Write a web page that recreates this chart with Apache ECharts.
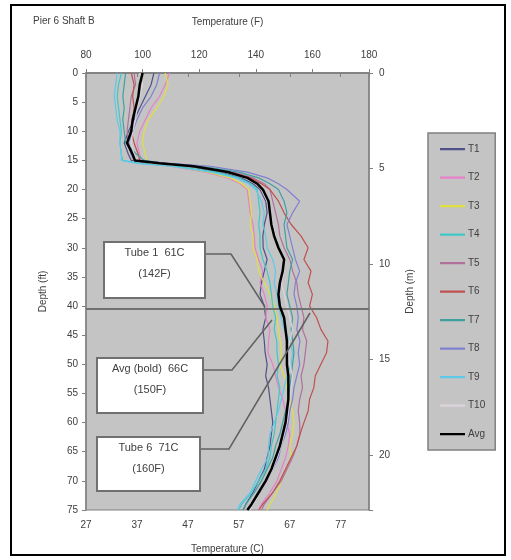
<!DOCTYPE html>
<html><head><meta charset="utf-8">
<script src="https://cdn.jsdelivr.net/npm/echarts@6/dist/echarts.min.js"></script>
<style>html,body{margin:0;padding:0;background:#fff}#c{width:511px;height:560px}</style>
</head><body><div id="c"></div>
<script>
const depths = [0,2,4,6,8,10,12,14,15,15.5,16,17,18,19,20,22,24,26,28,30,32,34,36,38,40,42,44,46,48,50,52,54,56,58,60,62,64,66,68,70,72,74,75];
const T1 = [104,103,101,99,97,95,93.5,95,96, 104,116,128,135,139,141.5, 143.5,144,143,142.5,142.6,144,143,142,141.5,143,143.5,142.5,143,143.3,144,143.5,144.5,145,145.5,146,145.5,145,144,143,141,139,136.5, 135.5];
const T2 = [109.5,108,106,103,101,99,98,99,99.5, 101,110,122,130,134.5,137, 137.5,138,139,139.5,139.7,141,142.5,141.5,143,144,143.5,145,144.5,144.3,146,147,148,149.5,150.5,151,152,151.5,150.5,149,147.5,145,142, 141];
const T3 = [108,109,107.5,105,102,100.5,100,101,101.5, 102,111,123,131,135,137.5, 138,138.5,138,139,139,140.5,141,143,145,146.5,147.5,148,148.6,149,148.5,150,151,152,153,153.5,153,152,152.5,151,149,147.4,145, 144];
const T4 = [92.5,91.5,91,91.5,92,92.5,92,92.5,93, 99,112,126,134,138,140.5, 141,141.5,141,141.5,141.5,142.5,144,145,145.5,146,147,146.5,147.4,147.5,148,147.5,148.5,148,147.5,147,146.5,145.5,145,143.5,141,138.5,135, 134];
const T5 = [97,97.5,96,95.5,95,94.5,95,96,97, 106,119,132,139,143,145, 146,147,148,148.5,150,152,153,154.5,155,156,157,156.5,158,157.5,157,156,156.5,155.5,155,155.5,155.6,154.5,153,151,149,146,143, 142];
const T6 = [96,97,96.5,97,96.5,96,97,98.5,99, 105,118,131,138,142,145, 148,150,152.5,156,158.5,157,159.5,158.5,160,159,161.5,163,165.5,165,163,161,160.5,159,158.5,157,155.6,154.5,152.5,150.5,148.5,146,142.5, 141];
const T7 = [94,93.5,93,93.5,93,93.5,94,98,100.5, 108,121,134,141,145,148, 150,151,150,150.5,151,153,152,151.5,151,152,153,152.5,153,153.5,153,152.5,152,151.5,150.5,149.5,148.5,147,146,144,142,139.5,136.5, 135.5];
const T8 = [106,105,103,100,98,96.5,95,96,97.5, 109,124,137,144,148,151, 155.5,153,151,152,153,154,155.5,154,153.5,154.5,155,154.5,155.6,155,155.5,154.5,153.5,153,152,151.5,150.5,149,148,146,144,141.5,138.5, 137];
const T9 = [91,90.5,90,90.5,91,92,92,92.5,92.5, 98,110,124,133,137.5,140, 142,143,142.5,143.5,144,146,147,146.5,147.5,148,149,150,152,153,152.5,151,150,149,148,146.5,145,144.5,144.3,142,140,138,134.4, 133.5];
const T10 = [99,100,99,98,97.5,96.5,96,97,98, 104,117,129,136,140,142, 144,145,146,147,148,149.5,150,149,150,151,152,153,152,151.5,152,153,152.5,152,151.5,151,150,149,147.5,146,144,141.5,139, 138];
const Avg = [100,99,98.5,97.5,96.5,96,94.5,96.5,97.3, 106,118,130,137,140.5,142.5, 144.5,145,145.5,146.5,148,150,149.5,148.5,148,148.5,150,150.5,151,151,151,151.5,151.5,151.5,151,150.5,149.5,148.5,147,145.5,143.5,141,138.5, 137];
const seriesNames = ['T1','T2','T3','T4','T5','T6','T7','T8','T9','T10','Avg'];
const seriesValues = [T1,T2,T3,T4,T5,T6,T7,T8,T9,T10,Avg];
const topTicksF = [80,100,120,140,160,180];
const hLineDepth = 40.4;

const colors = ['#50508a','#e680c8','#e0e040','#40c8c8','#b0709a','#c05050','#40a0a0','#8080d0','#60c8e8','#dcd4dc','#000000'];
const FONT = 'Liberation Sans';
const TXT = '#404040';
const AX = '#808080';

const chart = echarts.init(document.getElementById('c'), null, {renderer:'canvas'});
const series = seriesNames.map((n,k)=>({
  name:n, type:'line', xAxisIndex:0, yAxisIndex:0,
  data: depths.map((d,i)=>[seriesValues[k][i], d]),
  showSymbol:false, symbol:'none', animation:false, z: n==='Avg'?5:3,
  lineStyle:{color:colors[k], width: n==='Avg'?2.5:1.2},
  itemStyle:{color:colors[k]}
}));
series[0].markLine = {symbol:'none', silent:true, label:{show:false}, animation:false,
  lineStyle:{color:'#707070', width:2, type:'solid'}, data:[{yAxis:hLineDepth}]};

const lbl = {fontFamily:FONT, fontSize:10, color:TXT};
const boxes = [
  {x:104,y:242,w:101,h:56,l1:'Tube 1  61C',l2:'(142F)', lead:[[205,254],[231,254],[265,307]]},
  {x:97,y:358,w:106,h:55,l1:'Avg (bold)  66C',l2:'(150F)', lead:[[203,370],[232,370],[272,320]]},
  {x:97,y:437,w:103,h:54,l1:'Tube 6  71C',l2:'(160F)', lead:[[200,449],[229,449],[310,313]]}
];
const graphic = [
  {type:'rect', shape:{x:11,y:5,width:494,height:550}, style:{fill:null, stroke:'#000', lineWidth:2}, z:100},
  {type:'text', left:33, top:16, style:{text:'Pier 6 Shaft B', font:'10px '+FONT, fill:TXT}}
];
boxes.forEach(b=>{
  graphic.push({type:'polyline', shape:{points:b.lead}, style:{stroke:'#606060', lineWidth:1.5, fill:null}, z:50});
  graphic.push({type:'rect', shape:{x:b.x,y:b.y,width:b.w,height:b.h}, style:{fill:'#fff', stroke:'#707070', lineWidth:2}, z:50});
  graphic.push({type:'text', x:b.x+b.w/2, y:b.y+11, style:{text:b.l1, font:'11px '+FONT, fill:TXT, align:'center', verticalAlign:'middle'}, z:51});
  graphic.push({type:'text', x:b.x+b.w/2, y:b.y+32, style:{text:b.l2, font:'11px '+FONT, fill:TXT, align:'center', verticalAlign:'middle'}, z:51});
});

const legendIcon = 'path://M0,0L0.01,0L0.01,0.01Z M0,6L25,6L25,8.2L0,8.2Z M0,13.99L0.01,13.99L0.01,14Z';

chart.setOption({
  animation:false,
  backgroundColor:'#fff',
  grid:{left:86, top:73, right:142, bottom:50, show:true, backgroundColor:'#c4c4c4', borderColor:AX, borderWidth:1},
  legend:{orient:'vertical', left:428, top:133, data:seriesNames.map(n=>({name:n, icon:legendIcon})), itemWidth:25, itemHeight:14, itemGap:14.5,
    padding:[9,10,9,12], backgroundColor:'#c4c4c4', borderColor:AX, borderWidth:1.5,
    textStyle:{fontFamily:FONT, fontSize:10, color:TXT, padding:[0,0,0,-2]}, selectedMode:false},
  xAxis:[
    {type:'value', position:'top', min:80, max:180, interval:20, name:'Temperature (F)', nameLocation:'middle', nameGap:46,
      nameTextStyle:{fontFamily:FONT, fontSize:10, color:TXT},
      axisLine:{show:true, lineStyle:{color:AX, width:1.5}}, axisTick:{show:true, length:4, lineStyle:{color:AX}},
      axisLabel:{...lbl, margin:13}, splitLine:{show:false}},
    {type:'value', position:'bottom', min:80, max:180, interval:18, name:'Temperature (C)', nameLocation:'middle', nameGap:34,
      nameTextStyle:{fontFamily:FONT, fontSize:10, color:TXT},
      axisLine:{show:true, lineStyle:{color:AX, width:1.5}}, axisTick:{show:true, length:4, lineStyle:{color:AX}},
      axisLabel:{...lbl, margin:10, formatter:v=> v>175 ? '' : String(Math.round((v-32)*5/9))}, splitLine:{show:false}},
  ],
  yAxis:[
    {type:'value', position:'left', inverse:true, min:0, max:75, interval:5, name:'Depth (ft)', nameLocation:'middle', nameGap:38, nameRotate:90,
      nameTextStyle:{fontFamily:FONT, fontSize:10, color:TXT},
      axisLine:{show:true, lineStyle:{color:AX, width:1.5}}, axisTick:{show:true, length:4, lineStyle:{color:AX}},
      axisLabel:{...lbl, margin:8}, splitLine:{show:false}},
    {type:'value', position:'right', inverse:true, min:0, max:75, interval:16.4042, name:'Depth (m)', nameLocation:'middle', nameGap:36, nameRotate:90,
      nameTextStyle:{fontFamily:FONT, fontSize:10, color:TXT},
      axisLine:{show:true, lineStyle:{color:AX, width:1.5}}, axisTick:{show:true, length:4, lineStyle:{color:AX}},
      axisLabel:{...lbl, margin:10, formatter:v=> v>74 ? '' : String(Math.round(v/3.28084))}, splitLine:{show:false}}
  ],
  series:series,
  graphic:graphic
});
</script></body></html>
